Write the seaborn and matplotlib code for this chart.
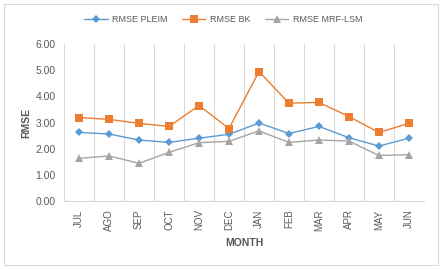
import matplotlib
matplotlib.use("Agg")
import matplotlib.pyplot as plt
import seaborn as sns
import pandas as pd
from matplotlib.patches import Rectangle

months = ["JUL", "AGO", "SEP", "OCT", "NOV", "DEC", "JAN", "FEB", "MAR", "APR", "MAY", "JUN"]
rmse_pleim = [2.62, 2.56, 2.33, 2.24, 2.40, 2.55, 2.98, 2.58, 2.85, 2.42, 2.10, 2.40]
rmse_bk = [3.19, 3.12, 2.97, 2.85, 3.65, 2.77, 4.95, 3.74, 3.77, 3.23, 2.62, 2.97]
rmse_mrf = [1.63, 1.72, 1.44, 1.86, 2.23, 2.28, 2.68, 2.24, 2.33, 2.29, 1.74, 1.77]
series = ["RMSE PLEIM", "RMSE BK", "RMSE MRF-LSM"]

df = pd.DataFrame({
    "MONTH": months * 3,
    "RMSE": rmse_pleim + rmse_bk + rmse_mrf,
    "serie": [series[0]] * 12 + [series[1]] * 12 + [series[2]] * 12,
})

sns.set_style("white")
plt.rcParams["font.family"] = ["Liberation Sans", "DejaVu Sans"]

fig = plt.figure(figsize=(4.42, 2.69), dpi=100)
ax = fig.add_axes([0.145, 0.253, 0.814, 0.583])

colores = {"RMSE PLEIM": "#5B9BD5", "RMSE BK": "#ED7D31", "RMSE MRF-LSM": "#A5A5A5"}
marcadores = {"RMSE PLEIM": "D", "RMSE BK": "s", "RMSE MRF-LSM": "^"}
sizes = {"RMSE PLEIM": 4.5, "RMSE BK": 6, "RMSE MRF-LSM": 6}

for s in series:
    sub = df[df["serie"] == s]
    sns.lineplot(data=sub, x="MONTH", y="RMSE", ax=ax, sort=False, color=colores[s],
                 marker=marcadores[s], markersize=sizes[s], markeredgewidth=0,
                 linewidth=1.0, label=s)

ax.set_xlim(-0.5, len(months) - 0.5)
ax.set_ylim(0, 6)
ax.set_yticks([0, 1, 2, 3, 4, 5, 6])
ax.set_yticklabels([f"{v:.2f}" for v in range(7)], fontsize=7.5, color="#595959")
ax.set_xticks(range(len(months)))
ax.set_xticklabels(months, rotation=90, fontsize=7, color="#595959")
ax.tick_params(axis="both", length=0, pad=6)

# lineas verticales entre categorias
for b in range(len(months) + 1):
    ax.axvline(b - 0.5, color="#D9D9D9", linewidth=0.8, zorder=0)

for lado in ["top", "right", "left"]:
    ax.spines[lado].set_visible(False)
ax.spines["bottom"].set_color("#D9D9D9")
ax.spines["bottom"].set_linewidth(0.8)

ax.set_xlabel("MONTH", fontsize=7.5, fontweight="bold", color="#595959", labelpad=5)
ax.set_ylabel("RMSE", fontsize=7.5, fontweight="bold", color="#595959", labelpad=3)

ax.legend(loc="center", bbox_to_anchor=(0.505, 0.926), bbox_transform=fig.transFigure,
          ncol=3, frameon=False, fontsize=6.5, handlelength=2.6, handletextpad=0.5,
          columnspacing=1.6, labelcolor="#595959")

fig.patches.append(Rectangle((0.01, 0.015), 0.98, 0.97, transform=fig.transFigure,
                             fill=False, edgecolor="#D9D9D9", linewidth=0.8))

fig.savefig("out.png", dpi=100)
